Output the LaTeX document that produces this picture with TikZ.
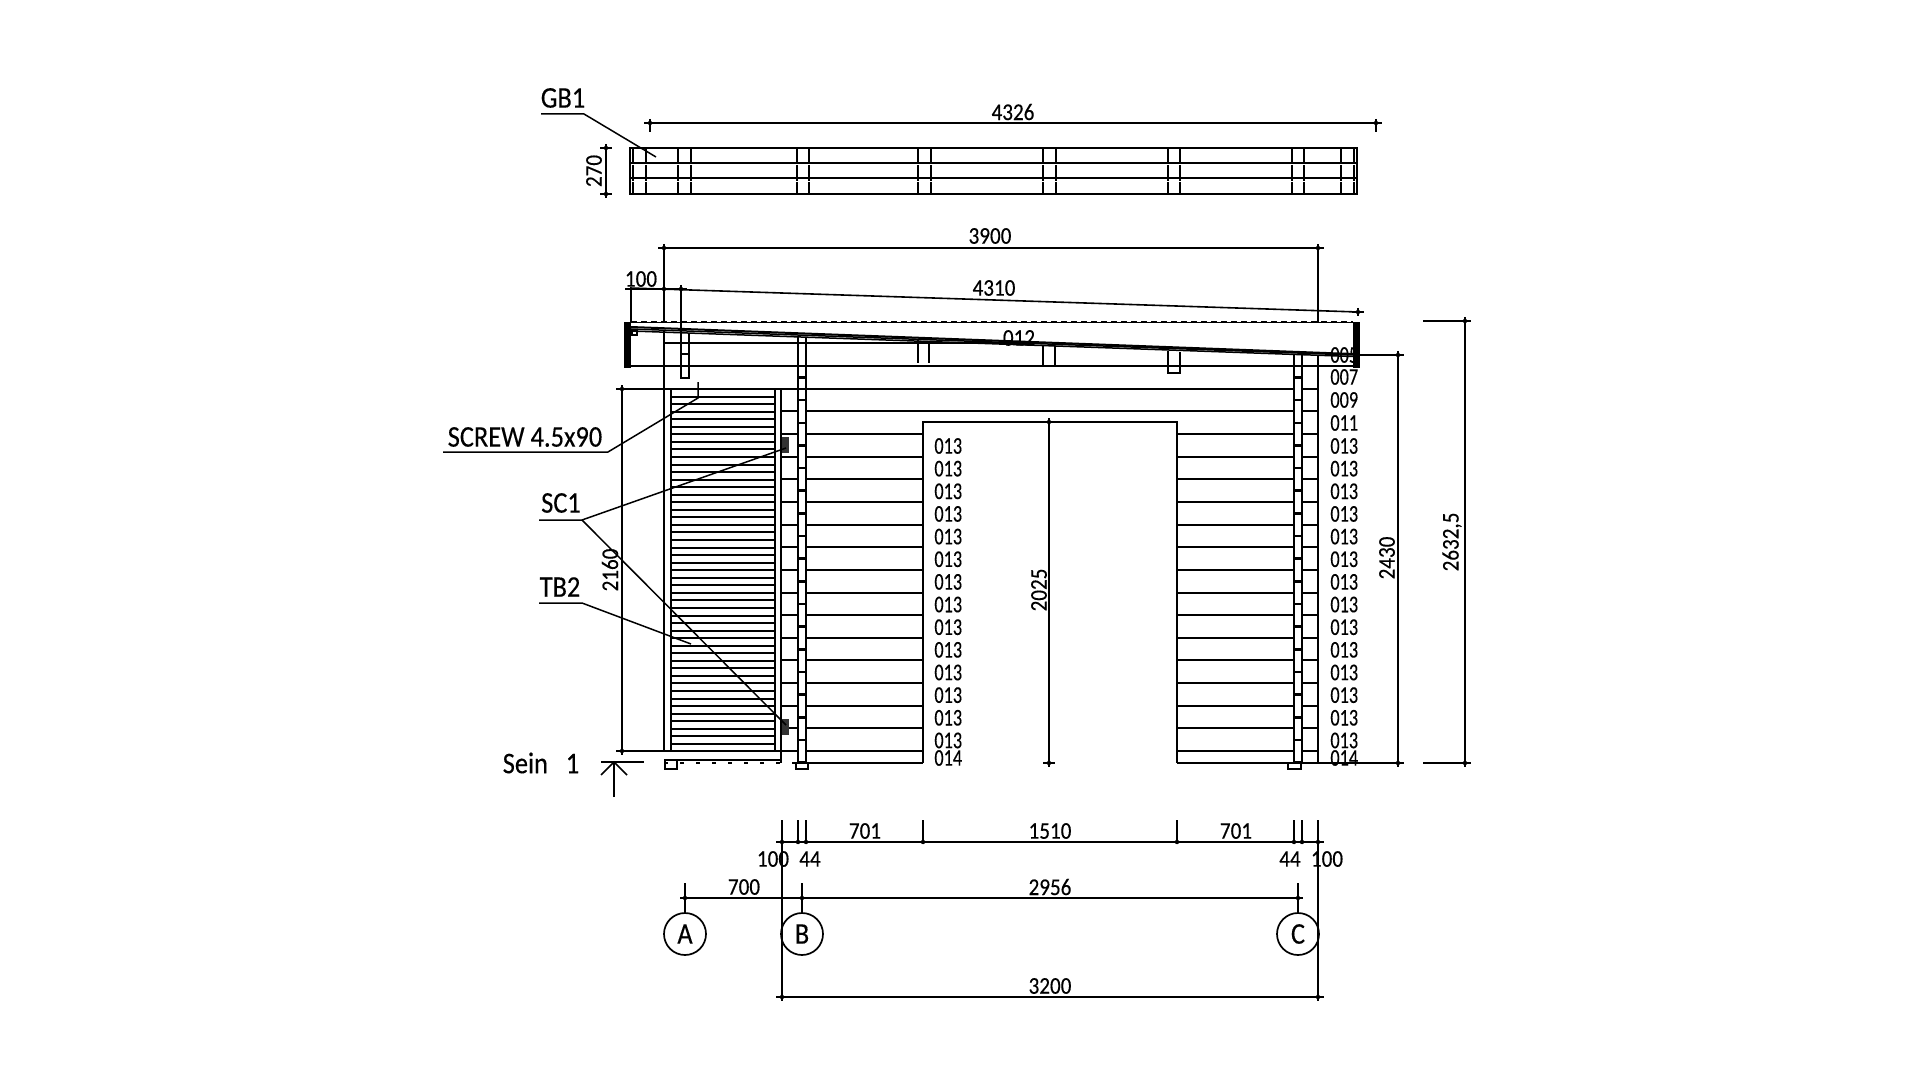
\documentclass[tikz,border=0pt]{standalone}
\usepackage{fontspec}
\setmainfont[FakeBold=0.3,FakeStretch=0.88]{Carlito}
\newfontfamily\tagfont[FakeBold=0.3,FakeStretch=0.76]{Carlito}
\newcommand{\dimtick}[2]{\draw[dimline] (#1,#2) +(-6,0) -- +(6,0) +(0,-4) -- +(0,4); \fill (#1,#2) circle (1.1pt);}
\tikzset{
  wall/.style={line width=1pt},
  thinline/.style={line width=0.75pt},
  postline/.style={line width=0.6pt,dash pattern=on 4pt off 0.25pt},
  dimline/.style={line width=0.8pt},
  dimtext/.style={font=\fontsize{12}{14}\selectfont,inner sep=0pt},
  tagtext/.style={font=\tagfont\fontsize{12}{14}\selectfont,inner sep=0pt,anchor=west},
  calltext/.style={font=\fontsize{15}{17}\selectfont,inner sep=0pt},
  gridmark/.style={draw,circle,line width=0.85pt,minimum size=21pt,inner sep=0pt,font=\fontsize{15}{17}\selectfont},
}
\begin{document}
\begin{tikzpicture}[x=0.5pt,y=-0.5pt]
    \useasboundingbox (0,0) rectangle (1920,1080);

    % top view GB1
    \draw[wall] (630,148) rectangle (1357,194);
    \draw[wall] (630,163) -- (1357,163);
    \draw[wall] (630,178) -- (1357,178);
    \foreach \xa/\xb in {633/646,678/691,797/809,918/931,1043/1056,1168/1180,1292/1304,1341/1354}{
        \draw[postline] (\xa,148) -- (\xa,194);
        \draw[postline] (\xb,148) -- (\xb,194);
    }
    \node[calltext] (gb1) at (563,98) {GB1};
    \draw[thinline] (541,114) -- (584,114) -- (656,157);
    \draw[dimline] (650,123) -- (1376,123);
    \draw[dimline] (650,123) -- (650,132);
    \draw[dimline] (1376,123) -- (1376,132);
    \dimtick{650}{123}
    \dimtick{1376}{123}
    \node[dimtext] (d4326) at (1013,112) {4326};
    \draw[dimline] (606,148) -- (606,194);
    \dimtick{606}{148}
    \dimtick{606}{194}
    \node[dimtext,rotate=90] (d270) at (594,171) {270};

    % roof
    \draw[thinline,densely dashed] (631,322) -- (1353,322);
    \draw[thinline] (631,322.5) -- (1353,322.5);
    \fill (624,322) rectangle (631,368);
    \fill (1353,322) rectangle (1360,368);
    \draw[wall] (631,327) -- (1353,354);
    \draw[thinline] (631,329) -- (1353,355);
    \draw[thinline] (631,331) -- (1353,356.5);
    \draw[thinline] (632,331) rectangle (637,335);
    \draw[wall] (624,366) -- (1353,366);
    \draw[wall] (664,343) -- (1043,343);
    \draw[wall] (681,333) -- (681,378) -- (689,378) -- (689,334);
    \draw[wall] (681,354) -- (689,354);
    \draw[wall] (918,340) -- (918,363);
    \draw[wall] (929,341) -- (929,363);
    \draw[wall] (1043,346) -- (1043,366);
    \draw[wall] (1055,346) -- (1055,366);
    \draw[wall] (1168,351) -- (1168,373) -- (1180,373) -- (1180,352);
    \node[dimtext] (t012) at (1019,338) {012};

    % walls
    \draw[wall] (620,389) -- (1294,389);
    \draw[wall] (1302,389) -- (1318,389);
    \draw[wall] (782,411) -- (798,411);
    \draw[wall] (806,411) -- (1294,411);
    \draw[wall] (1302,411) -- (1318,411);
    \draw[wall] (923,763) -- (923,422) -- (1177,422) -- (1177,763);
    \foreach \k in {0,...,14}{
        \pgfmathsetmacro{\yc}{round(434+22.65*\k)}
        \draw[wall] (782,\yc) -- (798,\yc);
        \draw[wall] (806,\yc) -- (923,\yc);
        \draw[wall] (1177,\yc) -- (1294,\yc);
        \draw[wall] (1302,\yc) -- (1318,\yc);
    }
    \draw[wall] (806,763) -- (923,763);
    \draw[wall] (1177,763) -- (1398,763);
    \draw[wall] (1318,355) -- (1318,763);

    % posts
    \foreach \xa/\xb/\yt in {798/806/337,1294/1302/355}{
        \draw[wall] (\xa,\yt) -- (\xa,763);
        \draw[wall] (\xb,\yt) -- (\xb,763);
        \foreach \k in {0,...,17}{
            \pgfmathsetmacro{\yc}{377.5+22.65*\k}
            \draw[line width=1.3pt] (\xa,\yc) -- (\xb,\yc);
        }
    }
    \draw[wall] (796,763) rectangle (808,769);
    \draw[wall] (1288,763) rectangle (1301,769);

    % door
    \draw[wall] (664,248) -- (664,322);
    \draw[wall] (664,331) -- (664,751);
    \draw[wall] (671,389) -- (671,751);
    \draw[wall] (775,389) -- (775,751);
    \draw[wall] (781,389) -- (781,763);
    \foreach \k in {1,...,47}{
        \pgfmathsetmacro{\yc}{round(389+7.55*\k)}
        \draw[line width=0.85pt] (671,\yc) -- (775,\yc);
    }
    \draw[thinline] (622,751) -- (782,751);
    \draw[wall] (664,760) -- (782,760);
    \draw[wall,dash pattern=on 2pt off 6pt] (664,763) -- (798,763);
    \draw[wall] (665,760) rectangle (677,769);
    \fill[black!80] (782,437) rectangle (789,453);
    \fill[black!80] (782,719) rectangle (789,735);

    % dimensions
    \draw[dimline] (664,248) -- (1318,248);
    \dimtick{664}{248}
    \dimtick{1318}{248}
    \draw[wall] (1318,248) -- (1318,322);
    \node[dimtext] (d3900) at (990,236) {3900};
    \draw[dimline] (625,289) -- (685,289);
    \draw[dimline] (631,289) -- (631,322);
    \draw[dimline] (681,289) -- (681,333);
    \dimtick{664}{289}
    \dimtick{681}{289}
    \node[dimtext] (d100a) at (641,279) {100};
    \draw[dimline] (630,288) -- (1358,312);
    \dimtick{1358}{312}
    \node[dimtext] (d4310) at (994,288) {4310};
    \draw[dimline] (622,389) -- (622,751);
    \dimtick{622}{389}
    \dimtick{622}{751}
    \node[dimtext,rotate=90] (d2160) at (610,570) {2160};
    \draw[dimline] (1049,422) -- (1049,763);
    \dimtick{1049}{422}
    \dimtick{1049}{763}
    \node[dimtext,rotate=90] (d2025) at (1039,590) {2025};
    \draw[dimline] (1359,355) -- (1398,355);
    \draw[dimline] (1398,355) -- (1398,763);
    \dimtick{1398}{355}
    \dimtick{1398}{763}
    \node[dimtext,rotate=90] (d2430) at (1387,558) {2430};
    \draw[dimline] (1423,321) -- (1465,321);
    \draw[dimline] (1423,763) -- (1465,763);
    \draw[dimline] (1465,321) -- (1465,763);
    \dimtick{1465}{321}
    \dimtick{1465}{763}
    \node[dimtext,rotate=90] (d2632) at (1452,542) {2632,5};

    % tags along the courses
    \node[tagtext] (r005) at (1330,355) {005};
    \node[tagtext] (r007) at (1330,377) {007};
    \node[tagtext] (r009) at (1330,400) {009};
    \node[tagtext] (r011) at (1330,423) {011};
    \foreach \k in {0,...,13}{
        \pgfmathsetmacro{\yc}{446+22.65*\k}
        \node[tagtext] (l\k) at (934,\yc) {013};
        \node[tagtext] (r\k) at (1330,\yc) {013};
    }
    \node[tagtext] (l014) at (934,758) {014};
    \node[tagtext] (r014) at (1330,758) {014};

    % callouts
    \node[calltext] (screw) at (525,437) {SCREW 4.5x90};
    \draw[thinline] (443,452) -- (608,452) -- (698,398) -- (698,382);
    \node[calltext] (sc1) at (561,503) {SC1};
    \draw[thinline] (539,520) -- (582,520) -- (786,448);
    \draw[thinline] (582,520) -- (786,725);
    \node[calltext] (tb2) at (560,587) {TB2};
    \draw[thinline] (539,603) -- (582,603) -- (691,644);
    \node[calltext] (sein) at (541,763) {Sein\ \ \ 1};
    \draw[thinline] (601,762) -- (644,762);
    \draw[thinline] (614,797) -- (614,762);
    \draw[thinline] (601,775) -- (614,762) -- (627,775);

    % bottom dimensions
    \draw[dimline] (778,842) -- (1322,842);
    \foreach \x in {798,806,923,1177,1294,1302}{
        \draw[dimline] (\x,820) -- (\x,842);
        \fill (\x,842) circle (1.1pt);
    }
    \draw[dimline] (782,820) -- (782,997);
    \draw[dimline] (1318,820) -- (1318,997);
    \dimtick{782}{842}
    \dimtick{1318}{842}
    \node[dimtext] (b701a) at (865,831) {701};
    \node[dimtext] (b1510) at (1050,831) {1510};
    \node[dimtext] (b701b) at (1236,831) {701};
    \node[dimtext] (b100a) at (773,859) {100};
    \node[dimtext] (b44a) at (810,859) {44};
    \node[dimtext] (b44b) at (1290,859) {44};
    \node[dimtext] (b100b) at (1327,859) {100};

    \node[gridmark] (A) at (685,934) {A};
    \node[gridmark] (B) at (802,934) {B};
    \node[gridmark] (C) at (1298,934) {C};
    \coordinate (topA) at (685,883);
    \coordinate (topB) at (802,883);
    \coordinate (topC) at (1298,883);
    \draw[dimline] (topA) -- (A);
    \draw[dimline] (topB) -- (B);
    \draw[dimline] (topC) -- (C);
    \draw[dimline] (680,898) -- (1303,898);
    \foreach \x in {685,802,1298}{
        \fill (\x,898) circle (1.1pt);
    }
    \node[dimtext] (b700) at (744,887) {700};
    \node[dimtext] (b2956) at (1050,887) {2956};
    \draw[dimline] (782,997) -- (1318,997);
    \dimtick{782}{997}
    \dimtick{1318}{997}
    \node[dimtext] (b3200) at (1050,986) {3200};
\end{tikzpicture}
\end{document}
